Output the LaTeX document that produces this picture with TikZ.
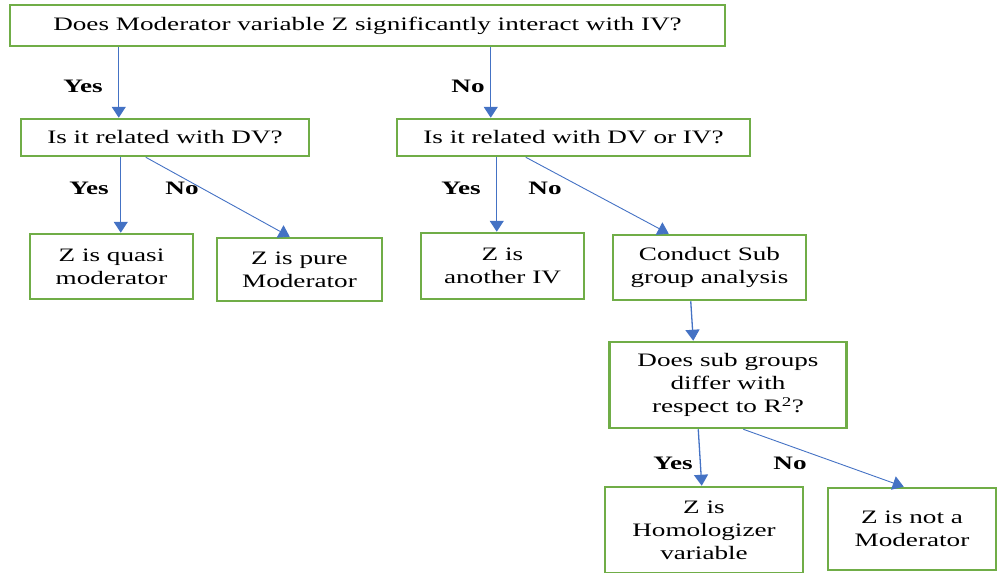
\documentclass[tikz,border=0pt]{standalone}
\usepackage{fontspec}
\setmainfont[FakeStretch=1.43]{Liberation Serif}
\usetikzlibrary{arrows.meta}
\definecolor{boxgreen}{HTML}{70AD47}
\definecolor{arrblue}{HTML}{4472C4}
\tikzset{
  box/.style={draw=boxgreen, line width=2.5pt, fill=white, align=center, inner sep=0pt,
    font=\fontsize{19}{23}\selectfont},
  arr/.style={draw=arrblue, line width=1.3pt, -{Triangle[length=11pt,width=14pt]}},
  lbl/.style={font=\fontsize{19}{20}\selectfont\bfseries}
}
\begin{document}
\begin{tikzpicture}[x=1pt,y=-1pt]
\useasboundingbox (0,0) rectangle (997,573);
\node[box, minimum width=715pt, minimum height=41pt] (top) at (367.5,25.5) {Does Moderator variable Z significantly interact with IV?};
\node[box, minimum width=288pt, minimum height=37pt] (dv) at (165,137.5) {Is it related with DV?};
\node[box, minimum width=353pt, minimum height=37pt] (dviv) at (573.5,137.5) {Is it related with DV or IV?};
\node[box, minimum width=163pt, minimum height=65pt] (quasi) at (111.5,266.5) {Z is quasi\\moderator};
\node[box, minimum width=165pt, minimum height=63pt] (pure) at (299.5,269.5) {Z is pure\\Moderator};
\node[box, minimum width=163pt, minimum height=66pt] (another) at (502.5,266) {Z is\\another IV};
\node[box, minimum width=193pt, minimum height=65pt] (conduct) at (709.5,267.5) {Conduct Sub\\group analysis};
\node[box, minimum width=237pt, minimum height=86pt] (sub) at (728,385) {Does sub groups\\differ with\\respect to R\textsuperscript{2}?};
\node[box, minimum width=198pt, minimum height=86pt] (homo) at (704,530) {Z is\\Homologizer\\variable};
\node[box, minimum width=168pt, minimum height=82pt] (notmod) at (912,529) {Z is not a\\Moderator};

\draw[arr] ([xshift=110pt]top.south west) -- ([xshift=99pt]dv.north west);
\draw[arr] ([xshift=482pt]top.south west) -- ([xshift=95pt]dviv.north west);
\draw[arr] ([xshift=101pt]dv.south west) -- ([xshift=92pt]quasi.north west);
\draw[arr, line width=0.9pt] ([xshift=126pt]dv.south west) -- ([xshift=74pt]pure.north west);
\draw[arr] ([xshift=101pt]dviv.south west) -- ([xshift=77pt]another.north west);
\draw[arr, line width=0.9pt] ([xshift=130pt]dviv.south west) -- ([xshift=57pt]conduct.north west);
\draw[arr] ([xshift=79pt]conduct.south west) -- ([xshift=85pt]sub.north west);
\draw[arr] ([xshift=90pt]sub.south west) -- ([xshift=98pt]homo.north west);
\draw[arr, line width=0.9pt] ([xshift=135pt]sub.south west) -- ([xshift=77pt]notmod.north west);

\node[lbl] (y1) at (83,86) {Yes};
\node[lbl] (n1) at (468,86) {No};
\node[lbl] (y2) at (89,188) {Yes};
\node[lbl] (n2) at (182,188) {No};
\node[lbl] (y3) at (461,188) {Yes};
\node[lbl] (n3) at (545,188) {No};
\node[lbl] (y4) at (673,463) {Yes};
\node[lbl] (n4) at (790,463) {No};
\end{tikzpicture}
\end{document}
